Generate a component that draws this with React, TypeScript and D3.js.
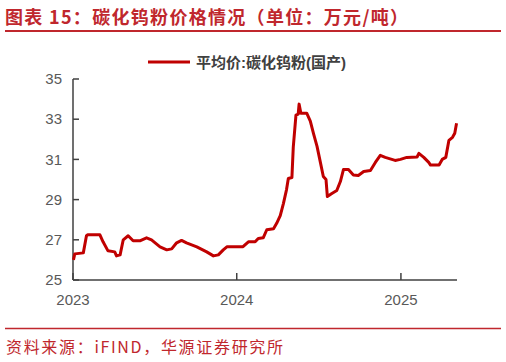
import React from "react";
import * as d3 from "d3";

const dates: string[] = [
  "2023-01-02","2023-01-05","2023-01-24","2023-01-31","2023-02-03","2023-03-02","2023-03-09","2023-03-20",
  "2023-04-04","2023-04-08","2023-04-16","2023-04-23","2023-05-04","2023-05-15","2023-05-30","2023-06-14",
  "2023-06-25","2023-07-14","2023-07-29","2023-08-09","2023-08-20","2023-08-31","2023-09-11","2023-10-04",
  "2023-10-26","2023-11-10","2023-11-21","2023-12-02","2023-12-10","2024-01-15","2024-01-27","2024-02-11",
  "2024-02-18","2024-02-29","2024-03-08","2024-03-23","2024-03-30","2024-04-07","2024-04-14","2024-04-21",
  "2024-04-25","2024-05-03","2024-05-06","2024-05-12","2024-05-17","2024-05-19","2024-05-23","2024-06-05",
  "2024-06-13","2024-06-20","2024-06-28","2024-07-05","2024-07-12","2024-07-18","2024-07-21","2024-07-31",
  "2024-08-11","2024-08-19","2024-08-26","2024-09-06","2024-09-17","2024-09-28","2024-10-10","2024-10-25",
  "2024-11-05","2024-11-16","2024-11-27","2024-12-19","2024-12-31","2025-01-14","2025-02-06","2025-02-10",
  "2025-02-21","2025-03-04","2025-03-08","2025-03-27","2025-04-03","2025-04-11","2025-04-18","2025-04-26",
  "2025-05-01","2025-05-05"
];

const prices: number[] = [
  26.0,26.3,26.35,27.2,27.25,27.25,26.9,26.45,
  26.4,26.2,26.25,27.0,27.2,26.95,26.95,27.1,
  27.0,26.65,26.5,26.55,26.85,26.97,26.85,26.65,
  26.4,26.2,26.25,26.5,26.65,26.66,26.9,26.9,
  27.07,27.1,27.5,27.55,27.82,28.2,28.8,29.5,
  30.05,30.1,31.6,33.2,33.25,33.75,33.3,33.3,
  32.9,32.3,31.65,30.9,30.15,30.0,29.15,29.3,
  29.45,29.9,30.5,30.5,30.22,30.2,30.4,30.45,
  30.85,31.2,31.1,30.95,31.0,31.1,31.12,31.3,
  31.1,30.85,30.72,30.72,31.0,31.1,31.95,32.1,
  32.3,32.8
];

const yTicks: number[] = [25, 27, 29, 31, 33, 35];
const xTickLabels: string[] = ["2023", "2024", "2025"];
const seriesName = "平均价:碳化钨粉(国产)";
const title = "图表 15：碳化钨粉价格情况（单位：万元/吨）";
const source = "资料来源：iFIND，华源证券研究所";

const W = 506, H = 362;
const red = "#C0272D";
const lineRed = "#C00000";
const axisColor = "#404040";
const textGray = "#595959";

export default function App() {
  const parse = d3.timeParse("%Y-%m-%d");
  const data = dates.map((d, i) => ({ date: parse(d) as Date, v: prices[i] }));
  const x = d3.scaleTime()
    .domain([new Date(2023, 0, 1), new Date(2025, 4, 6)])
    .range([73, 457]);
  const y = d3.scaleLinear().domain([25, 35]).range([280, 79]);
  const line = d3.line<{ date: Date; v: number }>()
    .x(d => x(d.date))
    .y(d => y(d.v))
    .curve(d3.curveLinear);
  const years = xTickLabels.map(s => new Date(+s, 0, 1));
  const font = "'Liberation Sans', Arial, 'Noto Sans CJK SC', sans-serif";
  const cjk = "'Noto Sans CJK SC', sans-serif";
  return (
    <svg width={W} height={H} style={{ position: "absolute", left: 0, top: 0, background: "#fff" }}>
      <text x={5} y={24} fontFamily={cjk} fontSize={18} fontWeight={700} fill={red}
        textLength={403} lengthAdjust="spacing">{title}</text>
      <line x1={5} x2={501} y1={31} y2={31} stroke={red} strokeWidth={2} />

      {/* legend */}
      <line x1={148} x2={190} y1={62} y2={62} stroke={lineRed} strokeWidth={3} />
      <text x={196} y={67.5} fontFamily={font} fontSize={15} fontWeight={700} fill={axisColor}>{seriesName}</text>

      {/* y axis */}
      <line x1={73} x2={73} y1={y(35)} y2={y(25)} stroke={axisColor} strokeWidth={1.5} />
      {yTicks.map(t => (
        <g key={t}>
          <line x1={73} x2={79} y1={y(t)} y2={y(t)} stroke={axisColor} strokeWidth={1.5} />
          <text x={62} y={y(t)} dy="0.35em" textAnchor="end" fontFamily={font} fontSize={15} fill={textGray}>{t}</text>
        </g>
      ))}

      {/* x axis */}
      <line x1={73} x2={457} y1={y(25)} y2={y(25)} stroke={axisColor} strokeWidth={1.5} />
      {years.map((d, i) => (
        <g key={i}>
          <line x1={x(d)} x2={x(d)} y1={y(25)} y2={y(25) - 7} stroke={axisColor} strokeWidth={1.5} />
          <text x={x(d)} y={300} dy="0.35em" textAnchor="middle" fontFamily={font} fontSize={15} fill={textGray}>{xTickLabels[i]}</text>
        </g>
      ))}

      <path d={line(data) || ""} fill="none" stroke={lineRed} strokeWidth={3} strokeLinejoin="round" />

      <line x1={5} x2={501} y1={328.5} y2={328.5} stroke={red} strokeWidth={1.5} />
      <text x={6} y={353} fontFamily={cjk} fontSize={16} fill={red}
        textLength={277} lengthAdjust="spacing">{source}</text>
    </svg>
  );
}
